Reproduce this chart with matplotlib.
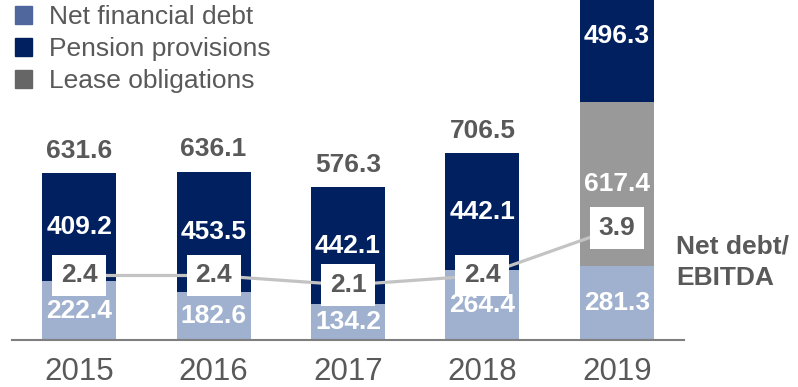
import matplotlib
matplotlib.use("Agg")
import matplotlib.pyplot as plt
from matplotlib.patches import Patch
import numpy as np

plt.rcParams['font.family'] = ['Liberation Sans', 'DejaVu Sans']

years = ['2015', '2016', '2017', '2018', '2019']
net_financial_debt = [222.4, 182.6, 134.2, 264.4, 281.3]
lease_obligations = [0, 0, 0, 0, 617.4]
pension_provisions = [409.2, 453.5, 442.1, 442.1, 496.3]
totals = [631.6, 636.1, 576.3, 706.5, None]
net_debt_ebitda = [2.4, 2.4, 2.1, 2.4, 3.9]

c_net = '#9fb1cf'
c_net_legend = '#4f679c'
c_pension = '#002060'
c_lease = '#999999'
c_lease_legend = '#666666'
c_text = '#595959'
c_line = '#c3c3c3'

fig = plt.figure(figsize=(7.98, 3.87), dpi=100)
ax = fig.add_axes([12 / 798, 47 / 387, 672 / 798, 340 / 387])

x = np.arange(len(years))
w = 0.55
net = np.array(net_financial_debt)
lease = np.array(lease_obligations)
pens = np.array(pension_provisions)

ax.bar(x, net, w, color=c_net, zorder=2)
ax.bar(x, lease, w, bottom=net, color=c_lease, zorder=2)
ax.bar(x, pens, w, bottom=net + lease, color=c_pension, zorder=2)

ax.set_xlim(-0.5, 4.5)
ax.set_ylim(0, 1284.5)
for s in ['top', 'right', 'left']:
    ax.spines[s].set_visible(False)
ax.spines['bottom'].set_color('#7f7f7f')
ax.spines['bottom'].set_linewidth(1.5)
ax.set_yticks([])
ax.set_xticks(x)
ax.set_xticklabels(years, fontsize=22.5, color=c_text)
ax.tick_params(axis='x', length=0, pad=12)

lbl = dict(ha='center', va='center', fontsize=19, fontweight='bold', color='white', zorder=5)
for i in range(len(years)):
    ax.text(x[i], net[i] / 2, f'{net[i]:.1f}', **lbl)
    if lease[i] > 0:
        ax.text(x[i], net[i] + lease[i] / 2, f'{lease[i]:.1f}', **lbl)
    ax.text(x[i], net[i] + lease[i] + pens[i] / 2, f'{pens[i]:.1f}', **lbl)
    if totals[i] is not None:
        ax.annotate(f'{totals[i]:.1f}', (x[i], totals[i]), xytext=(0, 16),
                    textcoords='offset points', ha='center', va='center',
                    fontsize=19, fontweight='bold', color=c_text)

# leverage ratio on its own scale
ax2 = ax.twinx()
ax2.set_ylim(0.365, 11.09)
ax2.axis('off')
ax2.plot(x, net_debt_ebitda, color=c_line, lw=2.3, zorder=3)
for i, v in enumerate(net_debt_ebitda):
    ax2.text(x[i], v, f'{v:.1f}', ha='center', va='center', fontsize=19,
             fontweight='bold', color=c_text, zorder=6,
             bbox=dict(boxstyle='square,pad=0.33', fc='white', ec='none'))

fig.text(676 / 798, 1 - 262 / 387, 'Net debt/\nEBITDA', ha='left', va='center',
         fontsize=19, fontweight='bold', color=c_text, linespacing=1.4)

handles = [Patch(color=c_net_legend), Patch(color=c_pension), Patch(color=c_lease_legend)]
labels = ['Net financial debt', 'Pension provisions', 'Lease obligations']
fig.legend(handles, labels, loc='upper left', bbox_to_anchor=(15 / 798, 1 - 5 / 387),
           frameon=False, fontsize=19, labelcolor=c_text, handlelength=0.65,
           handleheight=0.65, handletextpad=0.65, labelspacing=0.31, borderpad=0,
           borderaxespad=0)

fig.savefig('out.png', dpi=100)
